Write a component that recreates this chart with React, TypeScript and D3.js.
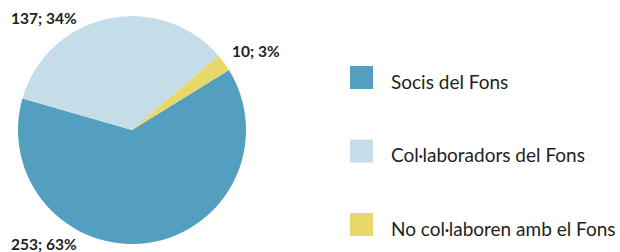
import * as d3 from 'd3';

const categories = ['Socis del Fons', 'Col·laboradors del Fons', 'No col·laboren amb el Fons'];
const values = [253, 137, 10];
const percents = [63, 34, 3];
const colors = ['#529fc0', '#c5dde9', '#e8d86a'];

const width = 620;
const height = 252;
const cx = 132;
const cy = 130;
const radius = 114;

export default function App() {
  const pie = d3.pie<number>()
    .sort(null)
    .startAngle((58.3 * Math.PI) / 180)
    .endAngle((58.3 * Math.PI) / 180 + 2 * Math.PI);
  const arcs = pie(values);
  const arc = d3.arc<d3.PieArcDatum<number>>().innerRadius(0).outerRadius(radius);

  // label positions picked by hand to sit outside the pie like in the source
  const labelPos: [number, number][] = [[11, 250], [11, 24], [232, 57]];

  const legendY = d3.scalePoint<string>().domain(categories).range([66, 213]);

  return (
    <svg width={width} height={height} style={{ position: 'absolute', left: 0, top: 0, background: '#fff' }}
      fontFamily="Lato, 'Open Sans', sans-serif">
      <g transform={`translate(${cx},${cy})`}>
        {arcs.map((a, i) => (
          <path key={i} d={arc(a) ?? ''} fill={colors[i]} />
        ))}
      </g>
      {arcs.map((a, i) => (
        <text key={i} x={labelPos[i][0]} y={labelPos[i][1]} fontSize={15.5} fontWeight="bold" fill="#231f20">
          {`${values[i]}; ${percents[i]}%`}
        </text>
      ))}
      {categories.map((c, i) => (
        <g key={c} transform={`translate(350,${legendY(c)})`}>
          <rect x={0} y={0} width={23} height={23} fill={colors[i]} />
          <text x={41} y={22.5} fontSize={19} fill="#231f20">{c}</text>
        </g>
      ))}
    </svg>
  );
}
